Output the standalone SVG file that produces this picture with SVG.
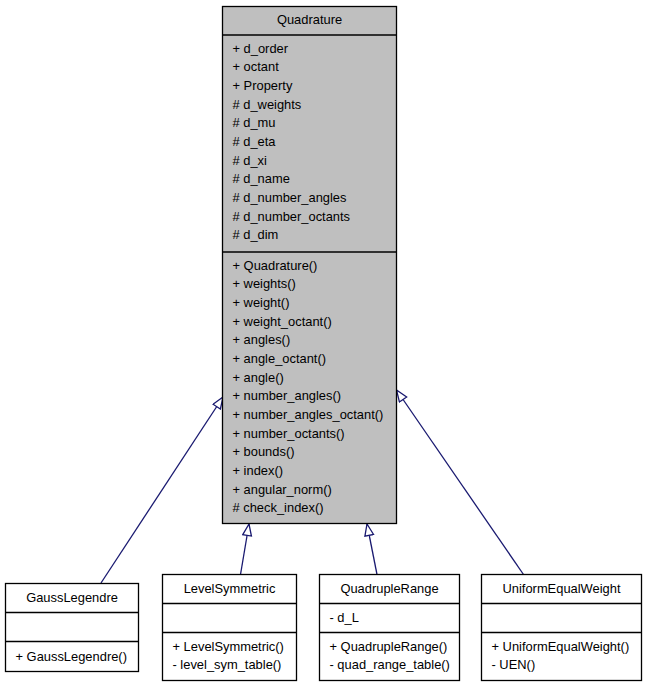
<svg xmlns="http://www.w3.org/2000/svg" width="645" height="688" viewBox="0 0 645 688">
<style>
text{font-family:"Liberation Sans",Arial,sans-serif;font-size:12.9px;fill:#000}
.c{text-anchor:middle}
.box{fill:#fff;stroke:#000;stroke-width:1.3}
.main{fill:#bfbfbf;stroke:#000;stroke-width:1.3}
.sep{stroke:#000;stroke-width:1.3}
.edge{fill:none;stroke:#191970;stroke-width:1.3}
</style>
<defs>
<marker id="inh" markerUnits="userSpaceOnUse" markerWidth="14" markerHeight="11" refX="12.5" refY="5" orient="auto">
<path d="M1,0.6 L12.5,5 L1,9.4 Z" fill="#fff" stroke="#191970" stroke-width="1.3"/>
</marker>
</defs>
<g id="connectors">
<path class="edge" d="M101,583 L223,397" marker-end="url(#inh)"/>
<path class="edge" d="M240.5,574.5 L249,524" marker-end="url(#inh)"/>
<path class="edge" d="M377,574.5 L367,524" marker-end="url(#inh)"/>
<path class="edge" d="M523.5,574.5 L396.5,390" marker-end="url(#inh)"/>
</g>
<g id="Quadrature">
<rect class="main" x="222.5" y="6.5" width="174" height="517"/>
<line class="sep" x1="222.5" y1="35" x2="396.5" y2="35"/>
<line class="sep" x1="222.5" y1="252" x2="396.5" y2="252"/>
<text class="c" x="309.5" y="24">Quadrature</text>
<text x="232.5" y="52.5">+ d_order</text>
<text x="232.5" y="71.2">+ octant</text>
<text x="232.5" y="89.8">+ Property</text>
<text x="232.5" y="108.5"># d_weights</text>
<text x="232.5" y="127.2"># d_mu</text>
<text x="232.5" y="145.8"># d_eta</text>
<text x="232.5" y="164.5"># d_xi</text>
<text x="232.5" y="183.2"># d_name</text>
<text x="232.5" y="201.9"># d_number_angles</text>
<text x="232.5" y="220.5"># d_number_octants</text>
<text x="232.5" y="239.2"># d_dim</text>
<text x="232.5" y="269.5">+ Quadrature()</text>
<text x="232.5" y="288.2">+ weights()</text>
<text x="232.5" y="306.8">+ weight()</text>
<text x="232.5" y="325.5">+ weight_octant()</text>
<text x="232.5" y="344.2">+ angles()</text>
<text x="232.5" y="362.8">+ angle_octant()</text>
<text x="232.5" y="381.5">+ angle()</text>
<text x="232.5" y="400.2">+ number_angles()</text>
<text x="232.5" y="418.9">+ number_angles_octant()</text>
<text x="232.5" y="437.5">+ number_octants()</text>
<text x="232.5" y="456.2">+ bounds()</text>
<text x="232.5" y="474.9">+ index()</text>
<text x="232.5" y="493.5">+ angular_norm()</text>
<text x="232.5" y="512.2"># check_index()</text>
</g>
<g id="GaussLegendre">
<rect class="box" x="5.5" y="583.5" width="133" height="88"/>
<line class="sep" x1="5.5" y1="612.5" x2="138.5" y2="612.5"/>
<line class="sep" x1="5.5" y1="641.5" x2="138.5" y2="641.5"/>
<text class="c" x="72" y="601.5">GaussLegendre</text>
<text x="15.5" y="661.3">+ GaussLegendre()</text>
</g>
<g id="LevelSymmetric">
<rect class="box" x="162.5" y="574.5" width="134" height="106"/>
<line class="sep" x1="162.5" y1="603.5" x2="296.5" y2="603.5"/>
<line class="sep" x1="162.5" y1="632.5" x2="296.5" y2="632.5"/>
<text class="c" x="229.5" y="592.5">LevelSymmetric</text>
<text x="172.5" y="651.2">+ LevelSymmetric()</text>
<text x="172.5" y="669.2">- level_sym_table()</text>
</g>
<g id="QuadrupleRange">
<rect class="box" x="319.5" y="574.5" width="140" height="106"/>
<line class="sep" x1="319.5" y1="603.5" x2="459.5" y2="603.5"/>
<line class="sep" x1="319.5" y1="632.5" x2="459.5" y2="632.5"/>
<text class="c" x="389.5" y="592.5">QuadrupleRange</text>
<text x="329.5" y="621.8">- d_L</text>
<text x="329.5" y="651.2">+ QuadrupleRange()</text>
<text x="329.5" y="669.2">- quad_range_table()</text>
</g>
<g id="UniformEqualWeight">
<rect class="box" x="481.5" y="574.5" width="160" height="106"/>
<line class="sep" x1="481.5" y1="603.5" x2="641.5" y2="603.5"/>
<line class="sep" x1="481.5" y1="632.5" x2="641.5" y2="632.5"/>
<text class="c" x="561.5" y="592.5">UniformEqualWeight</text>
<text x="491.5" y="651.2">+ UniformEqualWeight()</text>
<text x="491.5" y="669.2">- UEN()</text>
</g>
</svg>
